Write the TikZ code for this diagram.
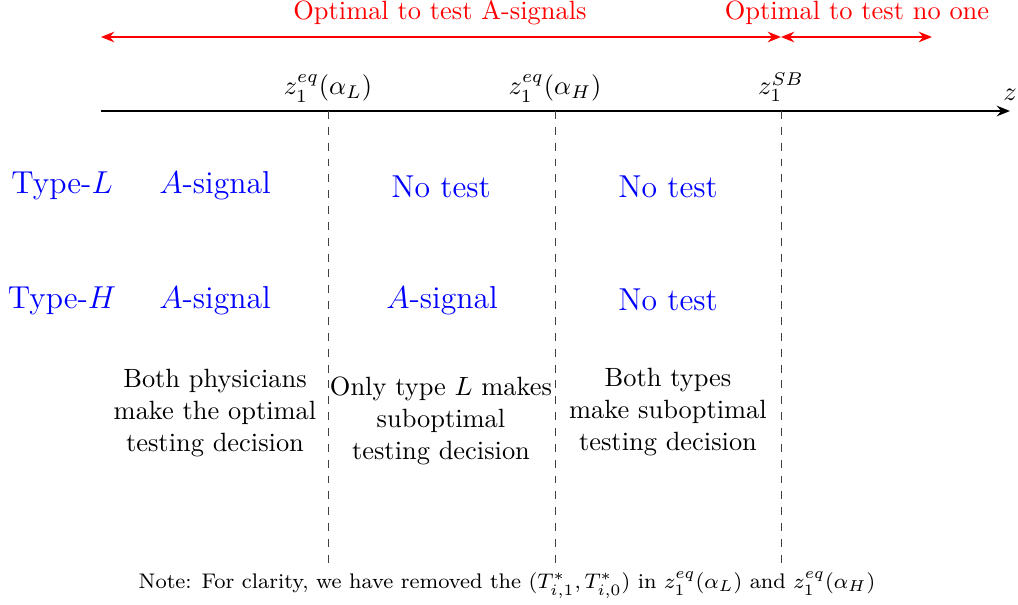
\documentclass[tikz,border=0pt]{standalone}
\usetikzlibrary{arrows.meta}
\begin{document}
\begin{tikzpicture}[x=0.01331cm,y=-0.01331cm,
  bluetxt/.style={text=blue,font=\large,inner sep=0pt,anchor=base},
  redtxt/.style={text=red,inner sep=0pt,anchor=base},
  axlab/.style={inner sep=0pt,anchor=base},
  desc/.style={align=center,inner sep=0pt},
  divider/.style={dashed,line width=0.3pt,black!75},
  redarrow/.style={red,thick,{Stealth[length=5pt,width=4pt]}-{Stealth[length=5pt,width=4pt]}}]
\useasboundingbox (0,0) rectangle (1018,605);
% axis
\coordinate (a0) at (101,111);
\coordinate (a1) at (1010,111);
\draw[thick,-{Stealth[length=5pt,width=4pt]}] (a0) -- (a1);
\node[axlab] (zlab) at (1010,101) {$z$};
% dividers
\coordinate (dL0) at (328,111); \coordinate (dL1) at (328,567);
\coordinate (dH0) at (555,111); \coordinate (dH1) at (555,567);
\coordinate (dS0) at (781,111); \coordinate (dS1) at (781,567);
\draw[divider] (dL0) -- (dL1);
\draw[divider] (dH0) -- (dH1);
\draw[divider] (dS0) -- (dS1);
\node[axlab] (zL) at (328,95) {$z_1^{eq}(\alpha_L)$};
\node[axlab] (zH) at (555,95) {$z_1^{eq}(\alpha_H)$};
\node[axlab] (zS) at (781,95) {$z_1^{SB}$};
% red arrows
\coordinate (r0) at (101,37);
\coordinate (r1) at (781,37);
\coordinate (r2) at (932,37);
\draw[redarrow] (r0) -- (r1);
\draw[redarrow] (r1) -- (r2);
\node[redtxt] (opt1) at (440,20) {Optimal to test A-signals};
\node[redtxt] (opt2) at (857,20) {Optimal to test no one};
% rows
\node[bluetxt] (tL) at (62,194) {Type-$L$};
\node[bluetxt] (tLa) at (215,194) {$A$-signal};
\node[bluetxt] (tLb) at (441,197) {No test};
\node[bluetxt] (tLc) at (668,197) {No test};
\node[bluetxt] (tH) at (62,308) {Type-$H$};
\node[bluetxt] (tHa) at (215,308) {$A$-signal};
\node[bluetxt] (tHb) at (442,308) {$A$-signal};
\node[bluetxt] (tHc) at (668,311) {No test};
% descriptions
\node[desc] (d1) at (215,413) {Both physicians\\make the optimal\\testing decision};
\node[desc] (d2) at (441,421) {Only type $L$ makes\\suboptimal\\testing decision};
\node[desc] (d3) at (668,412) {Both types\\make suboptimal\\testing decision};
% note
\node[inner sep=0pt,font=\footnotesize] (note) at (507,585) {Note: For clarity, we have removed the $(T^*_{i,1},T^*_{i,0})$ in $z_1^{eq}(\alpha_L)$ and $z_1^{eq}(\alpha_H)$};
\end{tikzpicture}
\end{document}
